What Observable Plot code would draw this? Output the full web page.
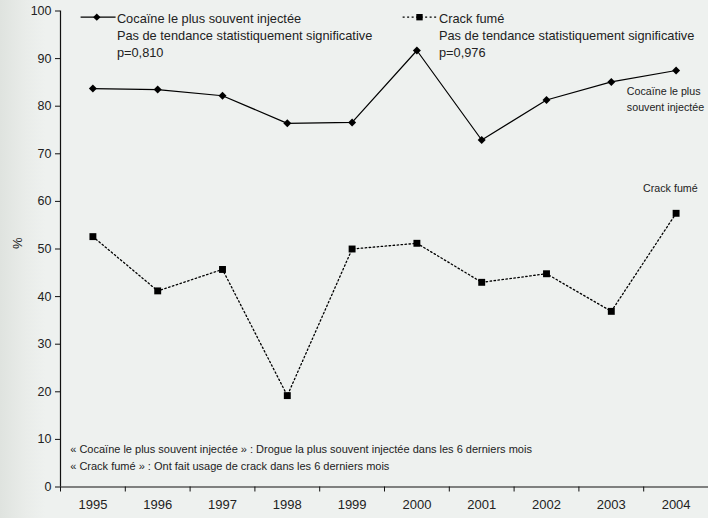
<!DOCTYPE html>
<html>
<head>
<meta charset="utf-8">
<script src="https://cdn.jsdelivr.net/npm/d3@7"></script>
<script src="https://cdn.jsdelivr.net/npm/@observablehq/plot@0.6"></script>
<style>
  html, body { margin: 0; padding: 0; }
  body {
    width: 708px; height: 518px; overflow: hidden;
    background: linear-gradient(to right, #dfe3df 0px, #e9ece9 25px, #eef1ef 45px, #eef1ef 100%);
  }
  svg { display: block; }
</style>
</head>
<body>
<div id="chart"></div>
<script>
const years = [1995, 1996, 1997, 1998, 1999, 2000, 2001, 2002, 2003, 2004];
const cocaine = [83.7, 83.5, 82.2, 76.4, 76.6, 91.7, 72.9, 81.3, 85.1, 87.5];
const crack = [52.6, 41.2, 45.7, 19.2, 50.0, 51.2, 43.0, 44.8, 36.9, 57.5];
const yTicks = [0, 10, 20, 30, 40, 50, 60, 70, 80, 90, 100];
const xTickLabels = ["1995", "1996", "1997", "1998", "1999", "2000", "2001", "2002", "2003", "2004"];
const seriesNames = ["Cocaïne le plus souvent injectée", "Crack fumé"];
const trendNotes = ["Pas de tendance statistiquement significative", "Pas de tendance statistiquement significative"];
const pValues = ["p=0,810", "p=0,976"];
const endLabels = ["Cocaïne le plus\nsouvent injectée", "Crack fumé"];
const footnotes = [
  "« Cocaïne le plus souvent injectée » : Drogue la plus souvent injectée dans les 6 derniers mois",
  "« Crack fumé » : Ont fait usage de crack dans les 6 derniers mois"
];
const yLabel = "%";

const data = years.map((year, i) => ({year, cocaine: cocaine[i], crack: crack[i]}));
const boundaries = d3.range(years[0] - 0.5, years[years.length - 1] + 1, 1);

const chart = Plot.plot({
  width: 708,
  height: 518,
  marginLeft: 60,
  marginRight: 0,
  marginTop: 10.5,
  marginBottom: 31.5,
  x: {domain: [years[0] - 0.5, years[years.length - 1] + 0.5]},
  y: {domain: [0, 100]},
  style: {fontFamily: "'Liberation Sans', Arial, sans-serif", background: "transparent", color: "#222", overflow: "visible"},
  marks: [
    Plot.ruleX([years[0] - 0.5], {stroke: "#111", strokeWidth: 1.2}),
    Plot.ruleY([0], {stroke: "#111", strokeWidth: 1.2}),
    Plot.axisY({ticks: yTicks, tickSize: 5, tickPadding: 4, fontSize: 12.5, label: null, stroke: "#111", fill: "#222"}),
    Plot.axisX({ticks: boundaries, tickSize: 5, tickFormat: () => "", label: null, stroke: "#111"}),
    Plot.axisX({ticks: years, tickSize: 0, tickPadding: 13, tickFormat: (d) => xTickLabels[years.indexOf(d)], fontSize: 13, label: null, fill: "#222"}),
    Plot.text([yLabel], {frameAnchor: "left", dx: -43, rotate: -90, fontSize: 13, fill: "#222"}),
    // series
    Plot.line(data, {x: "year", y: "cocaine", stroke: "black", strokeWidth: 1.2}),
    Plot.dot(data, {x: "year", y: "cocaine", symbol: "diamond2", r: 3.6, fill: "black"}),
    Plot.line(data, {x: "year", y: "crack", stroke: "black", strokeWidth: 1.3, strokeDasharray: "1.5 2.5"}),
    Plot.dot(data, {x: "year", y: "crack", symbol: "square", r: 3.9, fill: "black"}),
    // legend 1
    Plot.link([0], {x1: 1994.81, x2: 1995.35, y1: 98.7, y2: 98.7, stroke: "black", strokeWidth: 1.2}),
    Plot.dot([0], {x: 1995.06, y: 98.7, symbol: "diamond2", r: 3.3, fill: "black"}),
    Plot.text([[seriesNames[0], trendNotes[0], pValues[0]].join("\n")], {
      x: 1995.37, y: 95.15, textAnchor: "start", lineAnchor: "middle", fontSize: 12.8, lineHeight: 1.33, fill: "#222"
    }),
    // legend 2
    Plot.link([0], {x1: 1999.78, x2: 2000.31, y1: 98.7, y2: 98.7, stroke: "black", strokeWidth: 1.3, strokeDasharray: "2 2.5"}),
    Plot.dot([0], {x: 2000.04, y: 98.7, symbol: "square", r: 3.6, fill: "black"}),
    Plot.text([[seriesNames[1], trendNotes[1], pValues[1]].join("\n")], {
      x: 2000.34, y: 95.15, textAnchor: "start", lineAnchor: "middle", fontSize: 12.8, lineHeight: 1.33, fill: "#222"
    }),
    // end labels
    Plot.text([endLabels[0]], {x: 2003.24, y: 81.8, textAnchor: "start", lineAnchor: "middle", fontSize: 10.7, lineHeight: 1.5, fill: "#222"}),
    Plot.text([endLabels[1]], {x: 2003.49, y: 62.7, textAnchor: "start", lineAnchor: "middle", fontSize: 10.7, fill: "#222"}),
    // footnotes
    Plot.text([footnotes.join("\n")], {x: 1994.65, y: 6.6, textAnchor: "start", lineAnchor: "middle", fontSize: 11, lineHeight: 1.55, fill: "#222"})
  ]
});
document.getElementById("chart").appendChild(chart);
</script>
</body>
</html>
